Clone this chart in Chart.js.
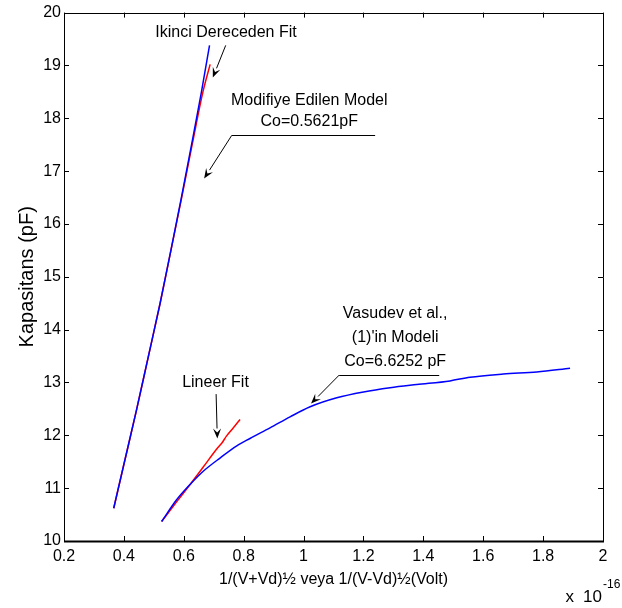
<!DOCTYPE html>
<html>
<head>
<meta charset="utf-8">
<script src="https://cdn.jsdelivr.net/npm/chart.js@4.4.1/dist/chart.umd.min.js"></script>
<style>
  body { margin: 0; background: #fff; }
  canvas { display: block; }
</style>
</head>
<body>
<canvas id="grafico" width="622" height="608"></canvas>
<script>
// Valores (eje x en unidades de 1e-16)
const xModelo = [0.366, 0.402, 0.443, 0.482, 0.521, 0.557, 0.592, 0.626, 0.659, 0.686];
const yModelo = [10.62, 11.50, 12.50, 13.50, 14.50, 15.50, 16.50, 17.50, 18.50, 19.38];

const xFit2 = [0.366, 0.402, 0.443, 0.482, 0.521, 0.557, 0.593, 0.628, 0.664, 0.688];
const yFit2 = [10.62, 11.50, 12.50, 13.50, 14.50, 15.50, 16.50, 17.50, 18.50, 19.02];

const xVasudev = [0.526, 0.576, 0.621, 0.665, 0.721, 0.777, 0.821, 0.888, 0.955, 1.022, 1.111, 1.200, 1.289, 1.378, 1.489, 1.556, 1.667, 1.779, 1.890];
const yVasudev = [10.37, 10.78, 11.07, 11.32, 11.57, 11.80, 11.94, 12.14, 12.35, 12.54, 12.71, 12.82, 12.90, 12.96, 13.03, 13.10, 13.16, 13.20, 13.27];

const xLineer = [0.526, 0.576, 0.621, 0.665, 0.710, 0.728, 0.743, 0.765, 0.788];
const yLineer = [10.37, 10.74, 11.07, 11.40, 11.74, 11.86, 11.99, 12.14, 12.30];

const xTicks = [0.2, 0.4, 0.6, 0.8, 1, 1.2, 1.4, 1.6, 1.8, 2];
const yTicks = [10, 11, 12, 13, 14, 15, 16, 17, 18, 19, 20];

const fuente = '"Liberation Sans", Arial, Helvetica, sans-serif';

function pares(xs, ys) {
  return xs.map((v, i) => ({ x: v, y: ys[i] }));
}

// notas con flechas, posiciones en unidades de datos
const notas = [
  { lineas: ['Ikinci Dereceden Fit'], x: 0.741, y: 19.62, paso: 0,
    flecha: [0.740, 19.38, 0.697, 18.77] },
  { lineas: ['Modifiye Edilen Model', 'Co=0.5621pF'], x: 1.019, y: 18.34, paso: 0.41,
    raya: [0.760, 1.239, 17.675], flecha: [0.760, 17.675, 0.668, 16.86] },
  { lineas: ['Lineer Fit'], x: 0.706, y: 13.0, paso: 0,
    flecha: [0.708, 12.78, 0.712, 11.94] },
  { lineas: ['Vasudev et al.,', "(1)'in Modeli", 'Co=6.6252 pF'], x: 1.306, y: 14.30, paso: 0.45,
    raya: [1.119, 1.453, 13.14], flecha: [1.119, 13.14, 1.025, 12.60] }
];

function dibujarFlecha(ctx, x0, y0, x1, y1) {
  const ang = Math.atan2(y1 - y0, x1 - x0);
  const L = 10, W = 4;
  const c = Math.cos(ang), s = Math.sin(ang);
  ctx.beginPath();
  ctx.moveTo(x0, y0);
  ctx.lineTo(x1 - L * c, y1 - L * s);
  ctx.stroke();
  ctx.beginPath();
  ctx.moveTo(x1, y1);
  ctx.lineTo(x1 - L * c + W * s, y1 - L * s - W * c);
  ctx.lineTo(x1 - 0.6 * L * c, y1 - 0.6 * L * s);
  ctx.lineTo(x1 - L * c - W * s, y1 - L * s + W * c);
  ctx.closePath();
  ctx.fill();
}

const marcoPlugin = {
  id: 'marco',
  afterDraw(chart) {
    const { ctx, chartArea: a, scales: { x, y } } = chart;
    ctx.save();
    ctx.strokeStyle = '#000';
    ctx.fillStyle = '#000';
    ctx.lineWidth = 1;

    // marcas hacia adentro en los cuatro lados
    ctx.beginPath();
    x.ticks.forEach(t => {
      const px = Math.round(x.getPixelForValue(t.value)) + 0.5;
      ctx.moveTo(px, a.bottom); ctx.lineTo(px, a.bottom - 5);
      ctx.moveTo(px, a.top); ctx.lineTo(px, a.top + 5);
    });
    y.ticks.forEach(t => {
      const py = Math.round(y.getPixelForValue(t.value)) + 0.5;
      ctx.moveTo(a.left, py); ctx.lineTo(a.left + 5, py);
      ctx.moveTo(a.right, py); ctx.lineTo(a.right - 5, py);
    });
    ctx.stroke();

    // caja
    ctx.beginPath();
    ctx.moveTo(Math.round(a.left) + 0.5, Math.round(a.bottom));
    ctx.lineTo(Math.round(a.left) + 0.5, Math.round(a.top) + 0.5);
    ctx.lineTo(Math.round(a.right) + 0.5, Math.round(a.top) + 0.5);
    ctx.lineTo(Math.round(a.right) + 0.5, Math.round(a.bottom));
    ctx.stroke();
    ctx.lineWidth = 2;
    ctx.beginPath();
    ctx.moveTo(Math.round(a.left), Math.round(a.bottom) + 0.5);
    ctx.lineTo(Math.round(a.right) + 1, Math.round(a.bottom) + 0.5);
    ctx.stroke();

    // notas
    ctx.lineWidth = 1;
    ctx.font = '16px ' + fuente;
    ctx.textAlign = 'center';
    ctx.textBaseline = 'middle';
    notas.forEach(n => {
      n.lineas.forEach((txt, i) => {
        ctx.fillText(txt, x.getPixelForValue(n.x), y.getPixelForValue(n.y - i * n.paso));
      });
      if (n.raya) {
        const py = Math.round(y.getPixelForValue(n.raya[2])) + 0.5;
        ctx.beginPath();
        ctx.moveTo(x.getPixelForValue(n.raya[0]), py);
        ctx.lineTo(x.getPixelForValue(n.raya[1]), py);
        ctx.stroke();
      }
      const f = n.flecha;
      dibujarFlecha(ctx, x.getPixelForValue(f[0]), y.getPixelForValue(f[1]),
        x.getPixelForValue(f[2]), y.getPixelForValue(f[3]));
    });

    // factor de escala del eje x
    ctx.textBaseline = 'alphabetic';
    ctx.textAlign = 'right';
    ctx.font = '17px ' + fuente;
    ctx.fillText('10', a.right - 1, 602);
    ctx.fillText('x', a.right - 29, 602);
    ctx.textAlign = 'left';
    ctx.font = '12px ' + fuente;
    ctx.fillText('-16', a.right, 588);
    ctx.restore();
  }
};

const ctx = document.getElementById('grafico');
new Chart(ctx, {
  type: 'line',
  data: {
    datasets: [
      { label: 'Modifiye Edilen Model', data: pares(xModelo, yModelo), borderColor: '#0000ff', borderWidth: 1.5 },
      { label: 'Vasudev et al.', data: pares(xVasudev, yVasudev), borderColor: '#0000ff', borderWidth: 1.5 },
      { label: 'Ikinci Dereceden Fit', data: pares(xFit2, yFit2), borderColor: '#ff0000', borderWidth: 1.5 },
      { label: 'Lineer Fit', data: pares(xLineer, yLineer), borderColor: '#ff0000', borderWidth: 1.5 }
    ]
  },
  options: {
    responsive: false,
    animation: false,
    devicePixelRatio: 1,
    elements: { point: { radius: 0 }, line: { cubicInterpolationMode: 'monotone' } },
    layout: { padding: { top: 12, right: 19, left: 0, bottom: 0 } },
    plugins: { legend: { display: false }, tooltip: { enabled: false } },
    scales: {
      x: {
        type: 'linear',
        min: 0.2,
        max: 2,
        afterBuildTicks: s => { s.ticks = xTicks.map(v => ({ value: v })); },
        afterFit: s => { s.height = 67; },
        grid: { display: false, drawTicks: false },
        border: { display: false },
        ticks: {
          color: '#000', padding: 6, maxRotation: 0, font: { family: fuente, size: 16 },
          callback: v => String(+v.toFixed(1))
        },
        title: {
          display: true,
          text: '1/(V+Vd)½ veya 1/(V-Vd)½(Volt)',
          color: '#000',
          font: { family: fuente, size: 16 },
          padding: { top: 0, bottom: 19 }
        }
      },
      y: {
        min: 10,
        max: 20,
        afterBuildTicks: s => { s.ticks = yTicks.map(v => ({ value: v })); },
        afterFit: s => { s.width = 64; },
        grid: { display: false, drawTicks: false },
        border: { display: false },
        ticks: { color: '#000', padding: 3, font: { family: fuente, size: 16 } },
        title: {
          display: true,
          text: 'Kapasitans (pF)',
          color: '#000',
          font: { family: fuente, size: 20 },
          padding: { top: 15, bottom: 0 }
        }
      }
    }
  },
  plugins: [marcoPlugin]
});
</script>
</body>
</html>
